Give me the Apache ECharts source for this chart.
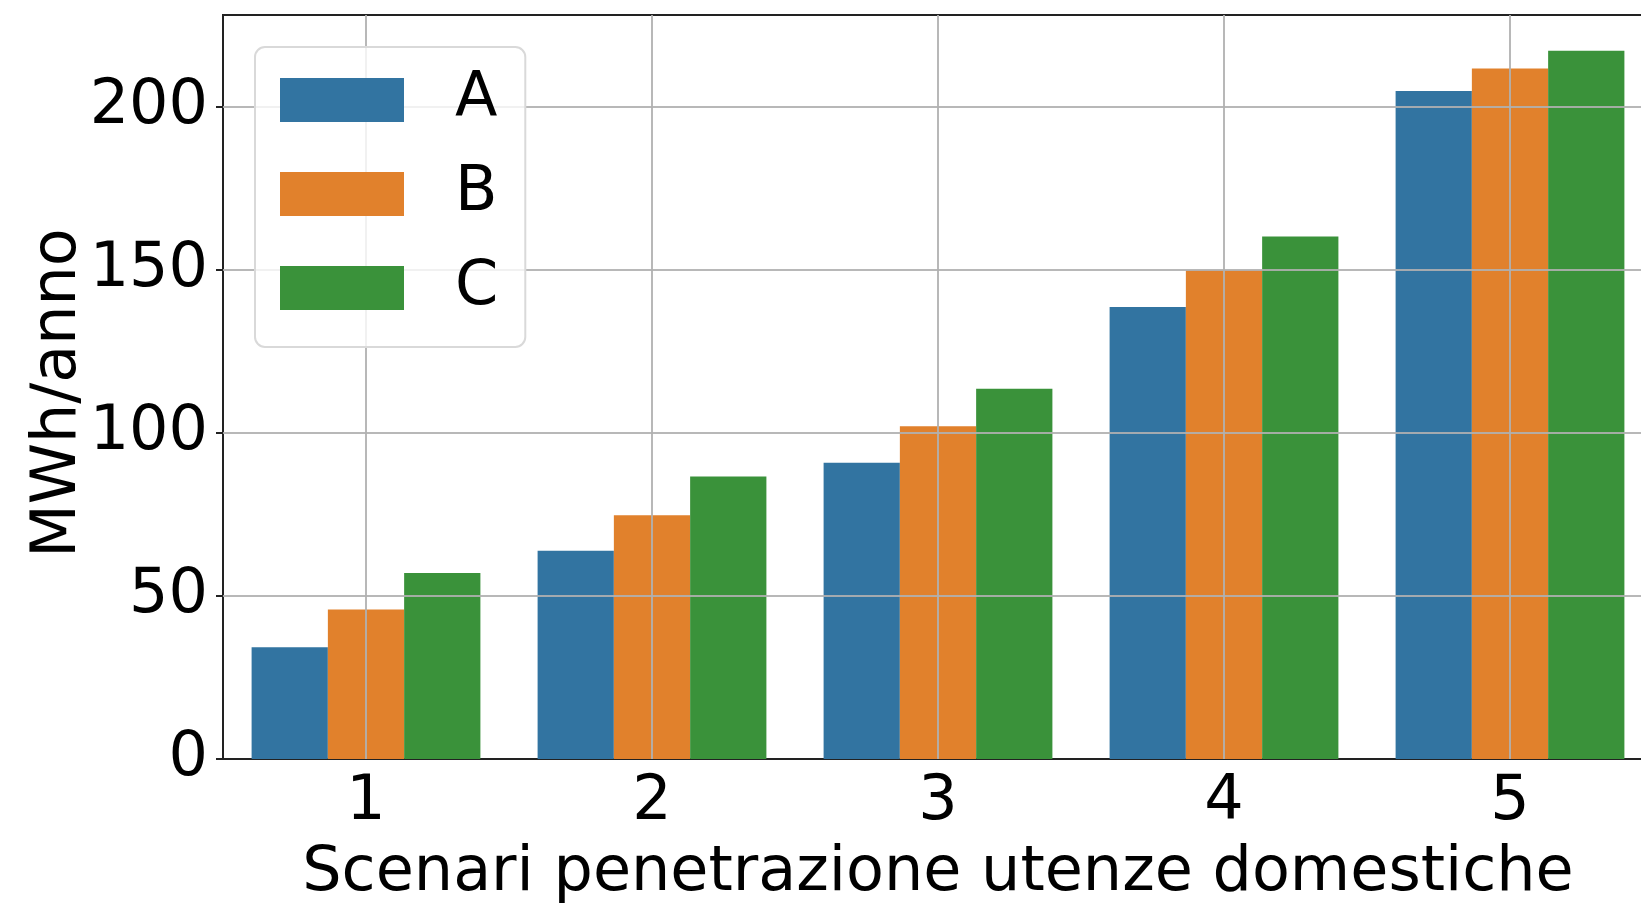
<!DOCTYPE html>
<html>
<head>
<meta charset="utf-8">
<script src="https://cdn.jsdelivr.net/npm/echarts@6/dist/echarts.min.js"></script>
<style>
  html, body { margin: 0; padding: 0; background: #fff; }
  #chart { width: 1641px; height: 906px; }
</style>
</head>
<body>
<div id="chart"></div>
<script>
// dati
const categorie = ['1', '2', '3', '4', '5'];
const serieA = [34.3, 63.9, 90.9, 138.7, 205.0];
const serieB = [45.9, 74.8, 102.1, 150.0, 211.9];
const serieC = [57.1, 86.7, 113.6, 160.3, 217.3];
const yTicks = [0, 50, 100, 150, 200];
const yMax = 228.3;

const font = 'DejaVu Sans';
const colori = ['#3274a1', '#e1812c', '#3a923a'];
const gridColor = 'rgba(176,176,176,0.9)';

const chart = echarts.init(document.getElementById('chart'));

// griglia sopra le barre (come in matplotlib)
const gridLines = [];
yTicks.forEach(v => { if (v > 0) gridLines.push({ yAxis: v }); });
categorie.forEach(c => gridLines.push({ xAxis: c }));

const option = {
  animation: false,
  color: colori,
  textStyle: { fontFamily: font },
  grid: {
    left: 223, top: 15, width: 1430, bottom: 147,
    outerBoundsMode: 'none', containLabel: false,
    show: true, borderColor: '#222', borderWidth: 2, backgroundColor: 'transparent'
  },
  legend: {
    orient: 'vertical',
    left: 255, top: 47, z: 10,
    data: ['A', 'B', 'C'],
    itemWidth: 124, itemHeight: 44, itemGap: 32,
    padding: [22, 27, 28, 25],
    backgroundColor: 'rgba(255,255,255,0.8)',
    borderColor: '#d9d9d9', borderWidth: 2, borderRadius: 10,
    icon: 'rect',
    textStyle: { fontFamily: font, fontSize: 62, color: '#000', padding: [0, 0, 0, 46] }
  },
  xAxis: {
    type: 'category',
    data: categorie,
    name: 'Scenari penetrazione utenze domestiche',
    nameLocation: 'middle',
    nameGap: 84,
    nameTextStyle: { fontFamily: font, fontSize: 62, color: '#000' },
    axisLine: { lineStyle: { color: '#222', width: 2 } },
    axisTick: { alignWithLabel: true, length: 7, lineStyle: { color: '#222', width: 2 } },
    axisLabel: { fontFamily: font, fontSize: 62, color: '#000', margin: 13 },
    splitLine: { show: false }
  },
  yAxis: {
    type: 'value',
    min: 0, max: yMax,
    interval: 50,
    name: 'MWh/anno',
    nameLocation: 'middle',
    nameGap: 133,
    nameMoveOverlap: false,
    nameTextStyle: { fontFamily: font, fontSize: 62, color: '#000', padding: [0, 12, 0, 0] },
    axisLine: { show: true, lineStyle: { color: '#222', width: 2 } },
    axisTick: { show: true, length: 7, customValues: yTicks, lineStyle: { color: '#222', width: 2 } },
    axisLabel: { fontFamily: font, fontSize: 62, color: '#000', margin: 15, customValues: yTicks },
    splitLine: { show: false }
  },
  series: [
    { name: 'A', type: 'bar', data: serieA, barGap: '0%', barCategoryGap: '20%' },
    { name: 'B', type: 'bar', data: serieB, barGap: '0%', barCategoryGap: '20%' },
    { name: 'C', type: 'bar', data: serieC, barGap: '0%', barCategoryGap: '20%' },
    {
      name: 'griglia', type: 'line', data: [], z: 5, silent: true,
      markLine: {
        silent: true, symbol: 'none', animation: false,
        label: { show: false },
        lineStyle: { color: gridColor, width: 2, type: 'solid' },
        data: gridLines
      }
    }
  ]
};

chart.setOption(option);
</script>
</body>
</html>
